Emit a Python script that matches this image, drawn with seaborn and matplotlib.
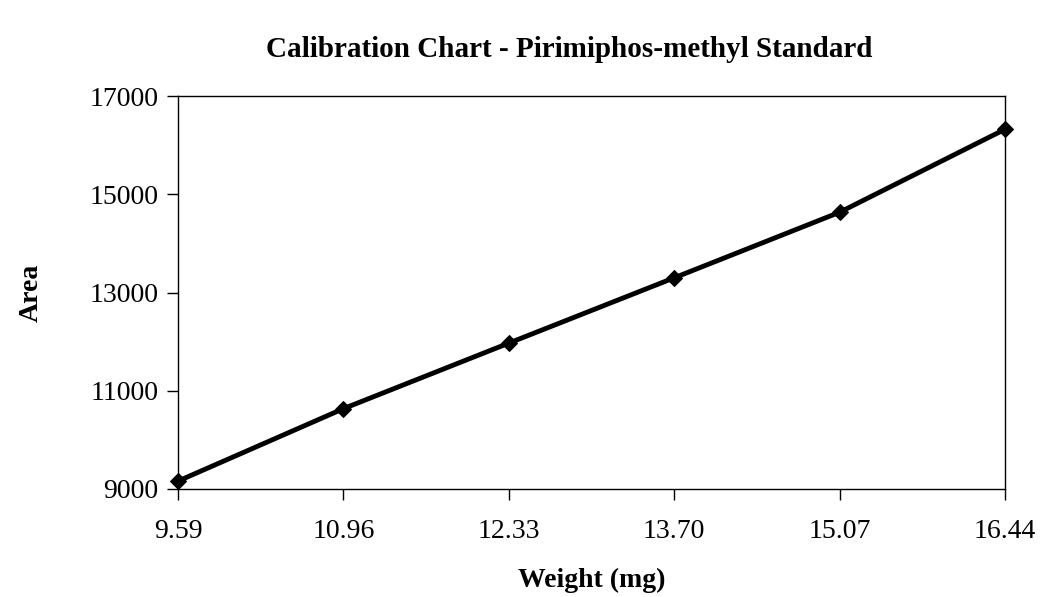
import numpy as np
import pandas as pd
from matplotlib import pyplot as plt
import seaborn as sns

weight = [9.59, 10.96, 12.33, 13.70, 15.07, 16.44]
area = [9160, 10635, 11970, 13300, 14635, 16325]
x_labels = ['9.59', '10.96', '12.33', '13.70', '15.07', '16.44']
y_ticks = [9000, 11000, 13000, 15000, 17000]

df = pd.DataFrame({'Weight (mg)': weight, 'Area': area})

sns.set_style('white')
plt.rcParams['font.family'] = ['Liberation Serif', 'DejaVu Serif']
plt.rcParams['text.color'] = 'black'
plt.rcParams['axes.labelcolor'] = 'black'

fig = plt.figure(figsize=(10.43, 5.97), dpi=100)
ax = fig.add_axes([0.1707, 0.181, 0.7929, 0.658])

sns.lineplot(data=df, x='Weight (mg)', y='Area', color='black', linewidth=3.5,
             marker='D', markersize=8, markeredgecolor='black', clip_on=False, ax=ax)

ax.set_xlim(weight[0], weight[-1])
ax.set_ylim(9000, 17000)
ax.set_xticks(weight)
ax.set_xticklabels(x_labels)
ax.set_yticks(y_ticks)

for s in ax.spines.values():
    s.set_visible(True)
    s.set_color('black')
    s.set_linewidth(1.0)

ax.tick_params(axis='both', direction='out', length=8, width=1, color='black',
               labelsize=20, labelcolor='black', bottom=True, left=True)
ax.tick_params(axis='x', pad=14)
ax.tick_params(axis='y', pad=6)

ax.set_xlabel('Weight (mg)', fontsize=20, fontweight='bold', labelpad=17)
ax.set_ylabel('Area', fontsize=20, fontweight='bold', labelpad=33)
fig.suptitle('Calibration Chart - Pirimiphos-methyl Standard', fontsize=21,
             fontweight='bold', x=0.546, y=0.94, color='black')

plt.savefig('out.png', dpi=100)
